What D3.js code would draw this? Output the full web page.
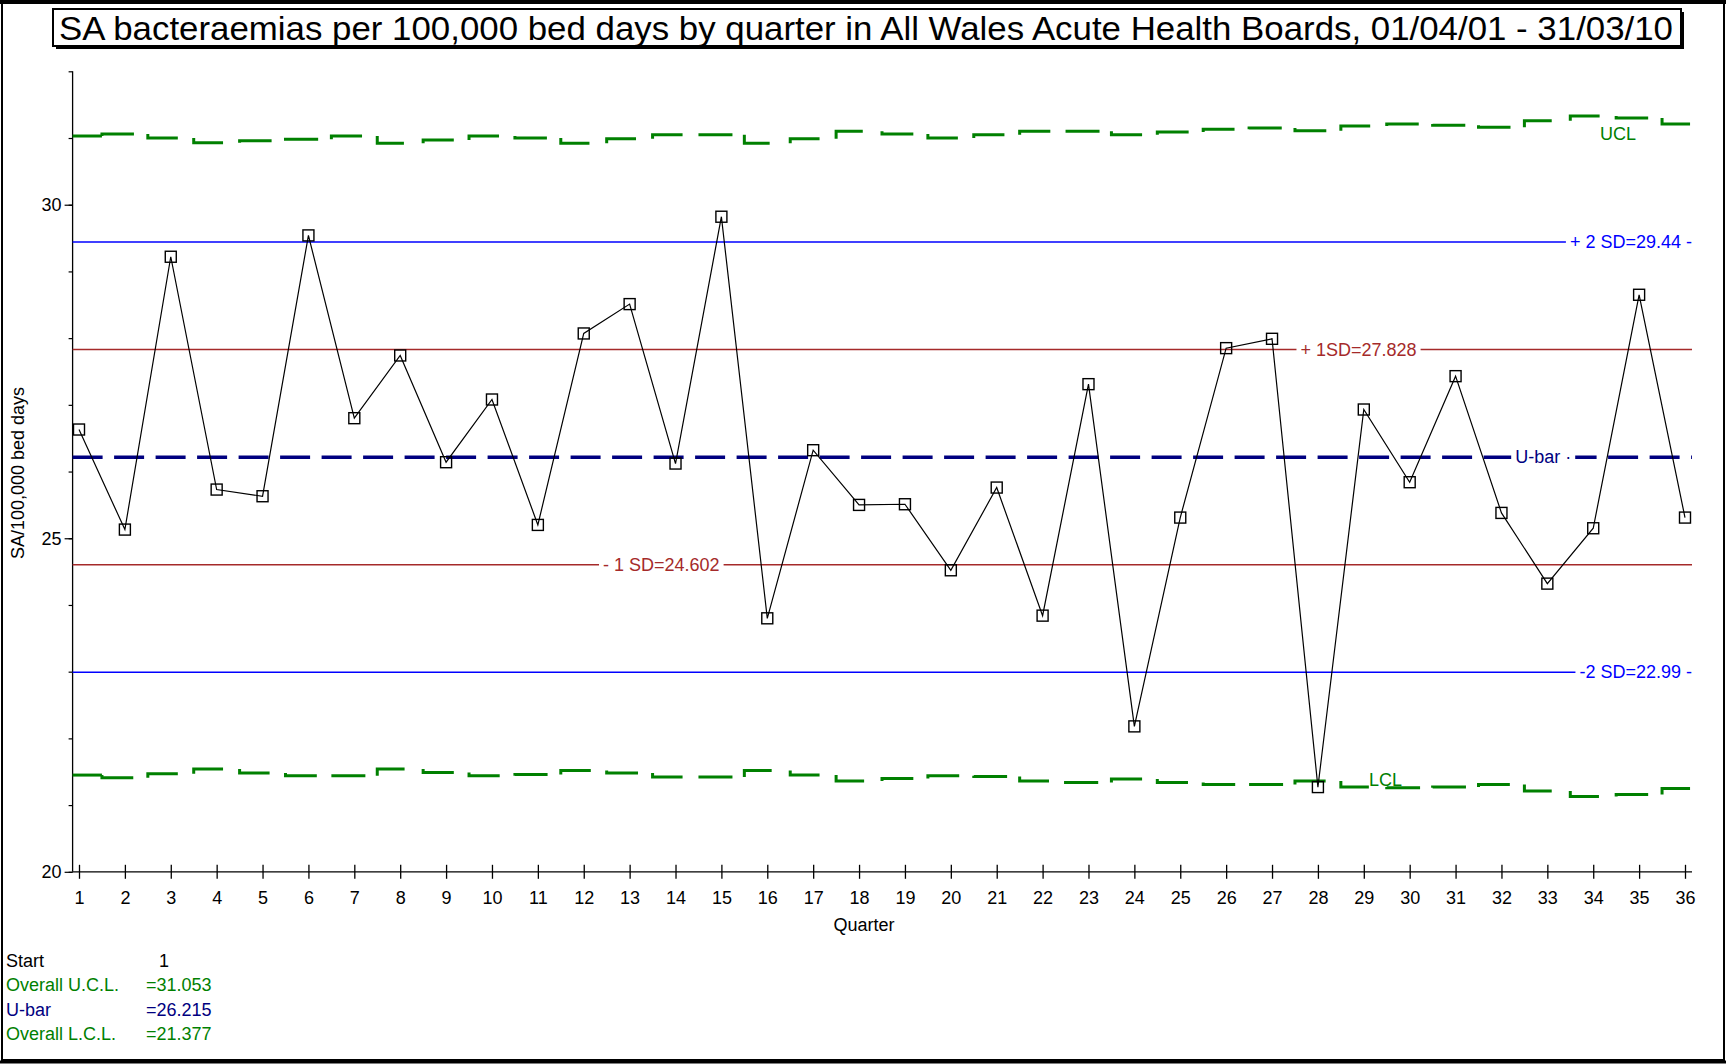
<html>
  <head>
    <meta http-equiv="Content-Type" content="text/html; charset=UTF-8" />
    <title>SA bacteraemias</title>
    <script src="https://d3js.org/d3.v7.min.js"></script>
    <style>
      body { margin: 0; background: #fff; }
      svg text { font-family: "Liberation Sans", Arial, sans-serif; }
    </style>
  </head>
  <body>
    <script type="text/javascript">
    // values
    var quarters = d3.range(1, 37);
    var rate = [26.63, 25.13, 29.22, 25.73, 25.63, 29.54, 26.80, 27.74, 26.14, 27.08,
                25.20, 28.07, 28.51, 26.12, 29.82, 23.80, 26.32, 25.50, 25.51, 24.52,
                25.76, 23.84, 27.31, 22.18, 25.31, 27.85, 27.99, 21.27, 26.93, 25.84,
                27.43, 25.38, 24.32, 25.15, 28.65, 25.31];
    var ucl = [31.03, 31.06, 31.00, 30.93, 30.96, 30.98, 31.03, 30.92, 30.97, 31.03,
               31.00, 30.92, 30.99, 31.05, 31.05, 30.92, 30.99, 31.10, 31.06, 31.00,
               31.05, 31.10, 31.10, 31.05, 31.09, 31.13, 31.15, 31.11, 31.18, 31.21,
               31.19, 31.16, 31.26, 31.33, 31.30, 31.21];
    var lcl = [21.45, 21.41, 21.47, 21.54, 21.48, 21.44, 21.44, 21.54, 21.49, 21.44,
               21.46, 21.52, 21.48, 21.42, 21.42, 21.52, 21.45, 21.36, 21.40, 21.44,
               21.43, 21.36, 21.34, 21.39, 21.34, 21.31, 21.31, 21.36, 21.27, 21.26,
               21.27, 21.31, 21.21, 21.13, 21.16, 21.25];
    var ubar = 26.215;
    var sdLines = [
      {value: 29.44,  label: "+ 2 SD=29.44 -", color: "#0000ff", at: null},
      {value: 27.828, label: "+ 1SD=27.828",   color: "#a52a2a", at: 27.62},
      {value: 24.602, label: "- 1 SD=24.602",  color: "#a52a2a", at: 12.42},
      {value: 22.99,  label: "-2 SD=22.99 -",  color: "#0000ff", at: null}
    ];
    var statNames  = ["Start", "Overall U.C.L.", "U-bar", "Overall L.C.L."];
    var statValues = ["1", "=31.053", "=26.215", "=21.377"];
    var statColors = ["#000000", "#008000", "#000080", "#008000"];

    var W = 1726, H = 1064, fs = 18;
    var svg = d3.select("body").append("svg")
      .attr("width", W).attr("height", H);

    // outer frame
    svg.append("rect").attr("x", 2).attr("y", 2).attr("width", W - 4).attr("height", H - 6)
      .attr("fill", "none").attr("stroke", "#000").attr("stroke-width", 2);
    svg.append("line").attr("x1", 0).attr("x2", W).attr("y1", 2).attr("y2", 2)
      .attr("stroke", "#000").attr("stroke-width", 4);
    svg.append("line").attr("x1", 0).attr("x2", W).attr("y1", H - 2).attr("y2", H - 2)
      .attr("stroke", "#000").attr("stroke-width", 3);

    // title box with shadow
    svg.append("rect").attr("x", 56).attr("y", 12).attr("width", 1628).attr("height", 37).attr("fill", "#000");
    svg.append("rect").attr("x", 53).attr("y", 9).attr("width", 1628).attr("height", 37)
      .attr("fill", "#fff").attr("stroke", "#000").attr("stroke-width", 2);
    svg.append("text").attr("x", 59).attr("y", 40)
      .attr("font-size", 34)
      .attr("textLength", 1614).attr("lengthAdjust", "spacingAndGlyphs")
      .text("SA bacteraemias per 100,000 bed days by quarter in All Wales Acute Health Boards, 01/04/01 - 31/03/10");

    var x = d3.scaleLinear().domain([1, 36]).range([79, 1685]);
    var y = d3.scaleLinear().domain([20, 32]).range([871.8, 71.3]);
    var axisX = 72.6, rightX = 1692;

    // y axis
    var gy = svg.append("g").attr("transform", "translate(" + axisX + ",0)");
    gy.call(d3.axisLeft(y).tickValues(d3.range(20, 33)).tickSize(4).tickFormat(""));
    gy.select(".domain").remove();
    var gy2 = svg.append("g").attr("transform", "translate(" + axisX + ",0)");
    gy2.call(d3.axisLeft(y).tickValues([20, 25, 30]).tickSize(8).tickPadding(3));
    gy2.select(".domain").remove();
    gy2.selectAll("text").attr("font-size", fs).attr("font-family", "Liberation Sans, Arial");
    svg.append("line").attr("x1", axisX).attr("x2", axisX).attr("y1", y(32)).attr("y2", y(20))
      .attr("stroke", "#000").attr("stroke-width", 1.3);
    svg.selectAll("g .tick line").attr("stroke-width", 1.2);

    // x axis
    var gx = svg.append("g").attr("transform", "translate(0," + y(20) + ")");
    gx.call(d3.axisBottom(x).tickValues(quarters).tickSize(7).tickPadding(12));
    gx.select(".domain").remove();
    gx.selectAll(".tick line").attr("y1", -7).attr("stroke-width", 1.3);
    gx.selectAll("text").attr("font-size", fs).attr("font-family", "Liberation Sans, Arial");
    svg.append("line").attr("x1", axisX).attr("x2", rightX).attr("y1", y(20)).attr("y2", y(20))
      .attr("stroke", "#000").attr("stroke-width", 1.3);

    svg.append("text").attr("x", 864).attr("y", 931).attr("text-anchor", "middle")
      .attr("font-size", fs).text("Quarter");
    svg.append("text").attr("transform", "translate(24,473) rotate(-90)")
      .attr("text-anchor", "middle").attr("font-size", fs).text("SA/100,000 bed days");

    // labelled horizontal line helper
    function label(txt, xPos, yPos, color, anchor) {
      var t = svg.append("text").attr("x", xPos).attr("y", yPos + 6)
        .attr("text-anchor", anchor).attr("font-size", fs).attr("fill", color).text(txt);
      var b = t.node().getBBox();
      svg.insert("rect", function() { return t.node(); })
        .attr("x", b.x - 4).attr("y", b.y + 2).attr("width", b.width + 8).attr("height", b.height - 4)
        .attr("fill", "#fff");
      return t;
    }

    sdLines.forEach(function(d) {
      svg.append("line").attr("x1", axisX).attr("x2", rightX)
        .attr("y1", y(d.value)).attr("y2", y(d.value))
        .attr("stroke", d.color).attr("stroke-width", 1.5);
      if (d.at === null) label(d.label, rightX, y(d.value), d.color, "end");
      else label(d.label, x(d.at), y(d.value), d.color, "start");
    });

    // centre line
    svg.append("line").attr("x1", axisX).attr("x2", rightX)
      .attr("y1", y(ubar)).attr("y2", y(ubar))
      .attr("stroke", "#000080").attr("stroke-width", 3.5).attr("stroke-dasharray", "30 11.5");
    label("U-bar \u00b7", x(33.52), y(ubar), "#000080", "end");

    // step control limits, one dash per quarter
    function stepPath(arr, i) {
      var q = quarters[i];
      var left = i === 0 ? axisX : x(q - 0.5);
      var prev = i === 0 ? arr[0] : arr[i - 1];
      return "M" + left + "," + y(prev) + "V" + y(arr[i]) + "H" + x(q + 0.5);
    }
    [ucl, lcl].forEach(function(arr) {
      svg.append("g").selectAll("path").data(arr).enter().append("path")
        .attr("d", function(d, i) { return stepPath(arr, i); })
        .attr("fill", "none").attr("stroke", "#008000").attr("stroke-width", 3)
        .attr("stroke-dasharray", "34 40");
    });
    svg.append("text").attr("x", 1600).attr("y", y(ucl[34]) + 22)
      .attr("font-size", fs).attr("fill", "#008000").text("UCL");
    svg.append("text").attr("x", 1369).attr("y", y(lcl[28]) - 1)
      .attr("font-size", fs).attr("fill", "#008000").text("LCL");

    // data series
    var line = d3.line().x(function(d, i) { return x(quarters[i]); }).y(function(d) { return y(d); });
    svg.append("path").datum(rate).attr("d", line)
      .attr("fill", "none").attr("stroke", "#000").attr("stroke-width", 1.2);
    svg.append("g").selectAll("rect").data(rate).enter().append("rect")
      .attr("x", function(d, i) { return x(quarters[i]) - 5.5; })
      .attr("y", function(d) { return y(d) - 5.5; })
      .attr("width", 11).attr("height", 11)
      .attr("fill", "none").attr("stroke", "#000").attr("stroke-width", 1.4);

    // summary block
    statNames.forEach(function(n, i) {
      svg.append("text").attr("x", 6).attr("y", 967 + i * 24.3)
        .attr("font-size", fs).attr("fill", statColors[i]).text(n);
      svg.append("text").attr("x", i === 0 ? 159 : 146).attr("y", 967 + i * 24.3)
        .attr("font-size", fs).attr("fill", statColors[i]).text(statValues[i]);
    });
    </script>
  </body>
</html>
